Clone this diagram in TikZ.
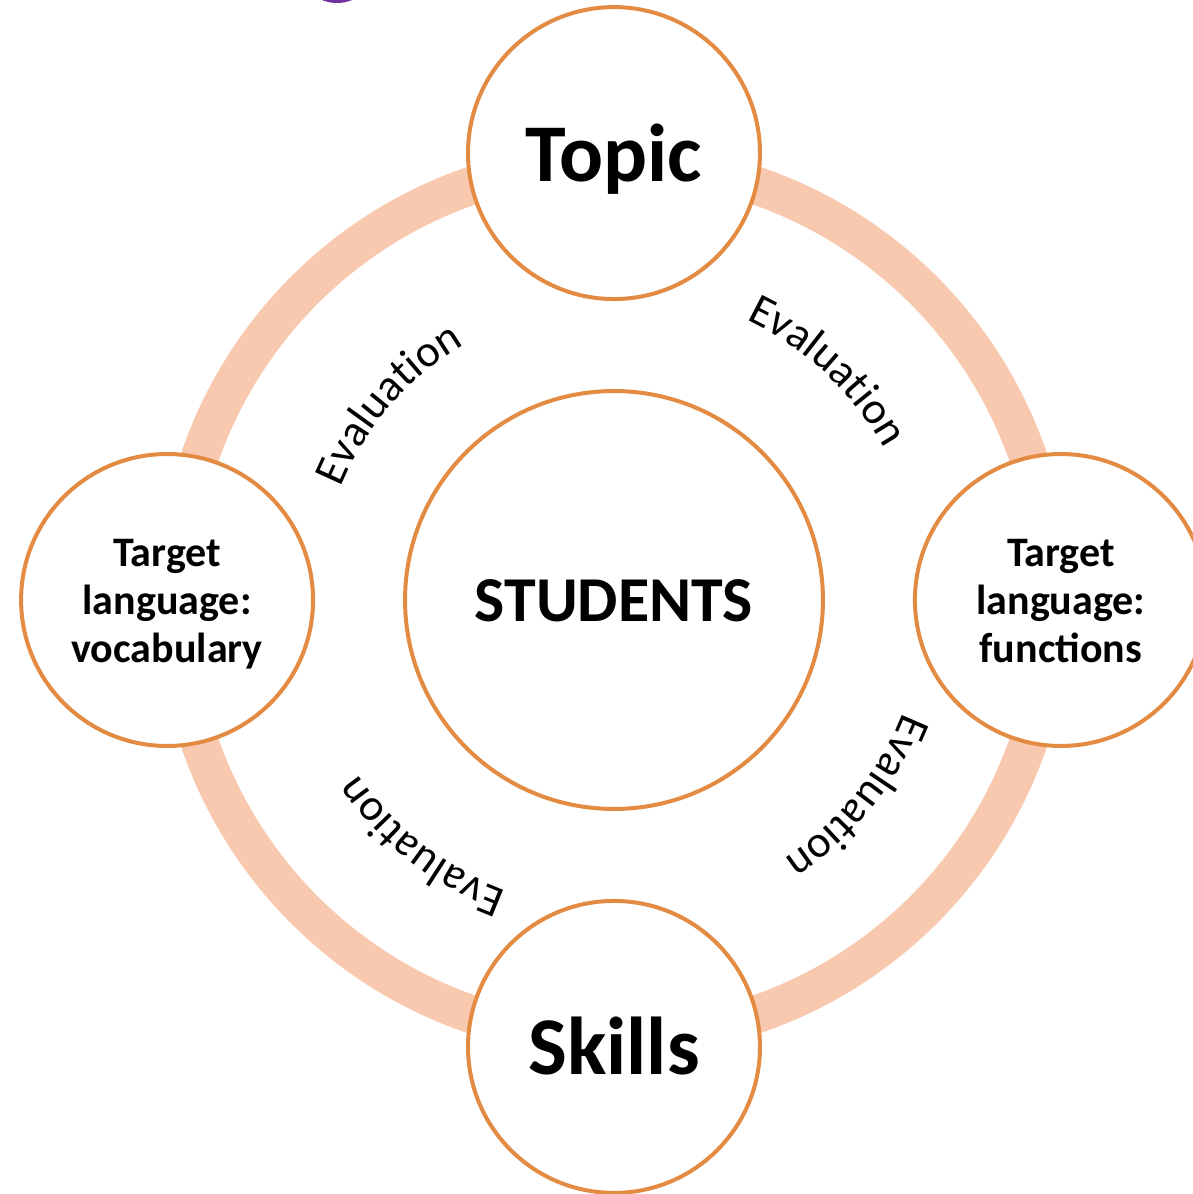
\documentclass[tikz,border=0pt]{standalone}
\usepackage{fontspec}
\setmainfont{Carlito}
\usepackage{xcolor}
\usepackage{tikz}
\usetikzlibrary{positioning, decorations.text}

\definecolor{ringpeach}{HTML}{F8C9AF}
\definecolor{rimorange}{HTML}{E38B42}
\definecolor{dotpurple}{HTML}{7030A0}

\newcommand{\evalfont}{\fontsize{25.6pt}{30pt}\selectfont}

\begin{document}
\begin{tikzpicture}[x=0.02cm, y=0.02cm,
  hubcircle/.style={circle, draw=rimorange, line width=0.08cm, fill=white,
    minimum size=8.36cm, inner sep=0pt, align=center,
    font=\fontsize{36.4pt}{44pt}\selectfont\bfseries,
    text height=34.7pt, text depth=9.8pt},
  bigspoke/.style={circle, draw=rimorange, line width=0.08cm, fill=white,
    minimum size=5.84cm, inner sep=0pt, align=center,
    font=\fontsize{46.7pt}{56pt}\selectfont\bfseries,
    text height=44.5pt, text depth=12.6pt},
  smallspoke/.style={circle, draw=rimorange, line width=0.08cm, fill=white,
    minimum size=5.84cm, inner sep=0pt, align=center,
    font=\fontsize{23.9pt}{27.3pt}\selectfont\bfseries,
    text height=77.4pt, text depth=6.4pt},
  ring/.style={draw=ringpeach, line width=0.76cm},
  evaltext/.style={decorate, decoration={text along path, text align=center,
    text={|\evalfont|Evaluation}}},
  node distance=1.76cm
]

% page and the cycle ring
\fill[white] (-614,-594) rectangle (579,600);
\useasboundingbox (-614,-594) rectangle (579,600);
\coordinate (hub) at (0,0);
\fill[dotpurple] (-277,637) circle[radius=40];
\draw[ring] (hub) circle[radius=438];

% Nodes
\node[hubcircle] (students) at (hub) {STUDENTS};
\node[bigspoke, above=of students] (topic) {Topic};
\node[bigspoke, below=of students] (skills) {Skills};
\node[smallspoke, left=of students] (vocab) {Target\\language:\\vocabulary};
\node[smallspoke, right=of students] (functions) {Target\\language:\\functions};

% Evaluation labels round the ring
\path[evaltext] (hub) ++(179:296) arc[start angle=179, end angle=99, radius=296];
\path[evaltext] (hub) ++(87:310) arc[start angle=87, end angle=7, radius=310];
\path[evaltext] (hub) ++(1:310) arc[start angle=1, end angle=-79, radius=310];
\path[evaltext] (hub) ++(-88:310) arc[start angle=-88, end angle=-168, radius=310];

\end{tikzpicture}
\end{document}
